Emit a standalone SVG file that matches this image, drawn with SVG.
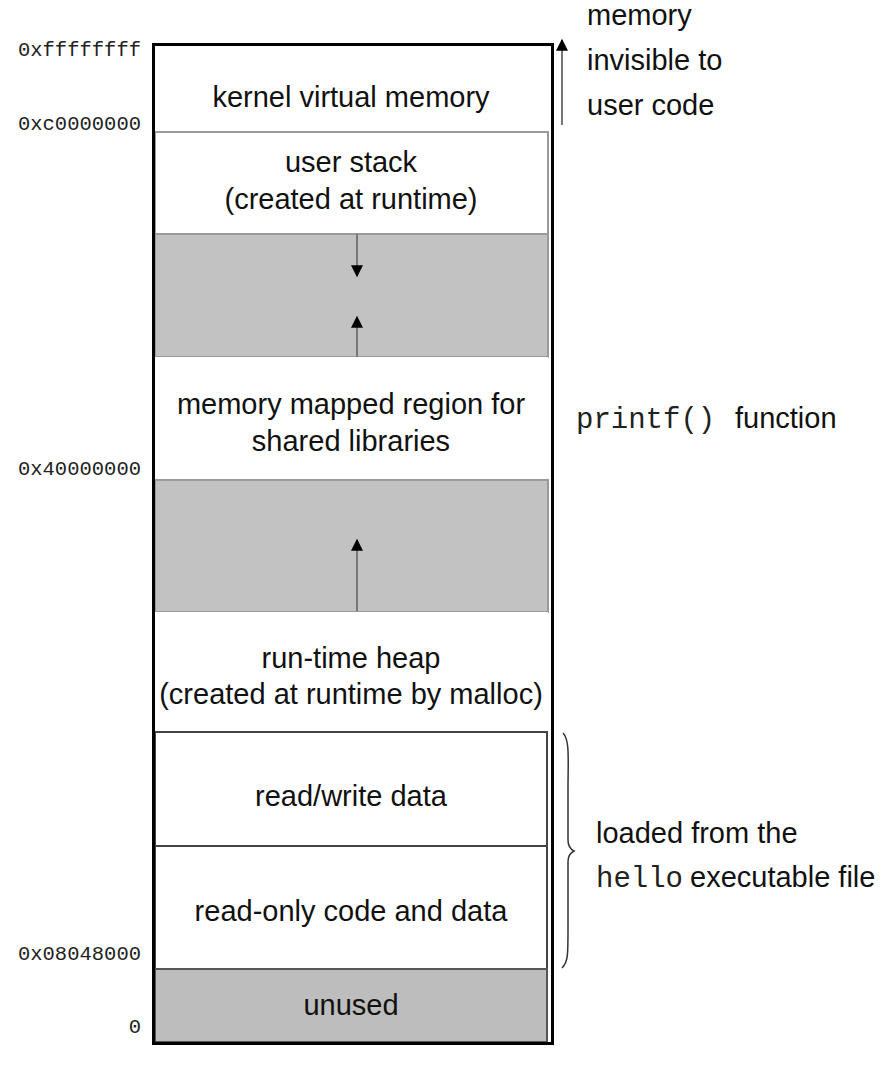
<svg xmlns="http://www.w3.org/2000/svg" width="886" height="1074" viewBox="0 0 886 1074">
<defs>
<style>
.t{font-family:"Liberation Sans",Arial,sans-serif;font-size:29px;fill:#111;text-anchor:middle}
.r{font-family:"Liberation Sans",Arial,sans-serif;font-size:29px;fill:#111}
.m{font-family:"Liberation Mono","Courier New",monospace;font-size:20.5px;fill:#222;text-anchor:end}
.mm{font-family:"Liberation Mono","Courier New",monospace;font-size:29px;fill:#222}
.gray{fill:#c2c2c2;stroke:#9a9a9a;stroke-width:2}
.white{fill:#fff;stroke:#9a9a9a;stroke-width:2}
.whiteD{fill:#fff;stroke:#444;stroke-width:2}
.ar{stroke:#777;stroke-width:2;fill:none}
</style>
<marker id="ahb" viewBox="0 0 10 10" refX="9" refY="5" markerWidth="16" markerHeight="12" orient="auto" markerUnits="userSpaceOnUse">
<path d="M0,0 L10,5 L0,10 z" fill="#000"/>
</marker>
</defs>
<rect x="0" y="0" width="886" height="1074" fill="#fff"/>

<g id="kernel">
<rect x="155" y="46" width="396" height="86" fill="#fff"/>
<text class="t" x="351" y="107">kernel virtual memory</text>
</g>
<g id="user-stack">
<rect class="white" x="155" y="132" width="393" height="102"/>
<text class="t" x="351" y="172">user stack</text>
<text class="t" x="351" y="209">(created at runtime)</text>
</g>
<g id="gap1">
<rect class="gray" x="155" y="234" width="393" height="123"/>
</g>
<g id="mmap">
<rect x="155" y="357" width="393" height="123" fill="#fff"/>
<text class="t" x="351" y="414">memory mapped region for</text>
<text class="t" x="351" y="451">shared libraries</text>
</g>
<g id="gap2">
<rect class="gray" x="155" y="480" width="393" height="132"/>
</g>
<g id="heap">
<rect x="155" y="612" width="393" height="120" fill="#fff"/>
<text class="t" x="351" y="668">run-time heap</text>
<text class="t" x="351" y="704">(created at runtime by malloc)</text>
</g>
<g id="rw-data">
<rect class="whiteD" x="155" y="732" width="392" height="114"/>
<text class="t" x="351" y="806">read/write data</text>
</g>
<g id="ro-code">
<rect class="whiteD" x="155" y="846" width="392" height="123"/>
<text class="t" x="351" y="921">read-only code and data</text>
</g>
<g id="unused">
<rect x="155" y="969" width="392" height="73" fill="#bdbdbd" stroke="#555" stroke-width="2"/>
<text class="t" x="351" y="1015">unused</text>
</g>
<rect x="153.5" y="44.5" width="399" height="999" fill="none" stroke="#000" stroke-width="3"/>

<g id="addresses">
<text class="m" x="141" y="56">0xffffffff</text>
<text class="m" x="141" y="130">0xc0000000</text>
<text class="m" x="141" y="475">0x40000000</text>
<text class="m" x="141" y="960">0x08048000</text>
<text class="m" x="141" y="1033">0</text>
</g>

<g id="connectors">
<line class="ar" x1="357" y1="234" x2="357" y2="276" marker-end="url(#ahb)"/>
<line class="ar" x1="357" y1="357" x2="357" y2="317" marker-end="url(#ahb)"/>
<line class="ar" x1="357" y1="611" x2="357" y2="540" marker-end="url(#ahb)"/>
<line class="ar" x1="562" y1="125" x2="562" y2="40" marker-end="url(#ahb)"/>
<path d="M563,733 C570,740 568,760 568,790 L568,840 C568,846 570,849 574,851 C570,853 568,856 568,862 L568,930 C568,955 568,962 562,968" fill="none" stroke="#333" stroke-width="1.5"/>
</g>

<g id="notes">
<text class="r" x="587" y="25">memory</text>
<text class="r" x="587" y="70">invisible to</text>
<text class="r" x="587" y="115">user code</text>
<text class="mm" x="576" y="428">printf()</text>
<text class="r" x="735" y="428">function</text>
<text class="r" x="596" y="843">loaded from the</text>
<text class="mm" x="596" y="887">hello</text>
<text class="r" x="690" y="887">executable file</text>
</g>
</svg>
